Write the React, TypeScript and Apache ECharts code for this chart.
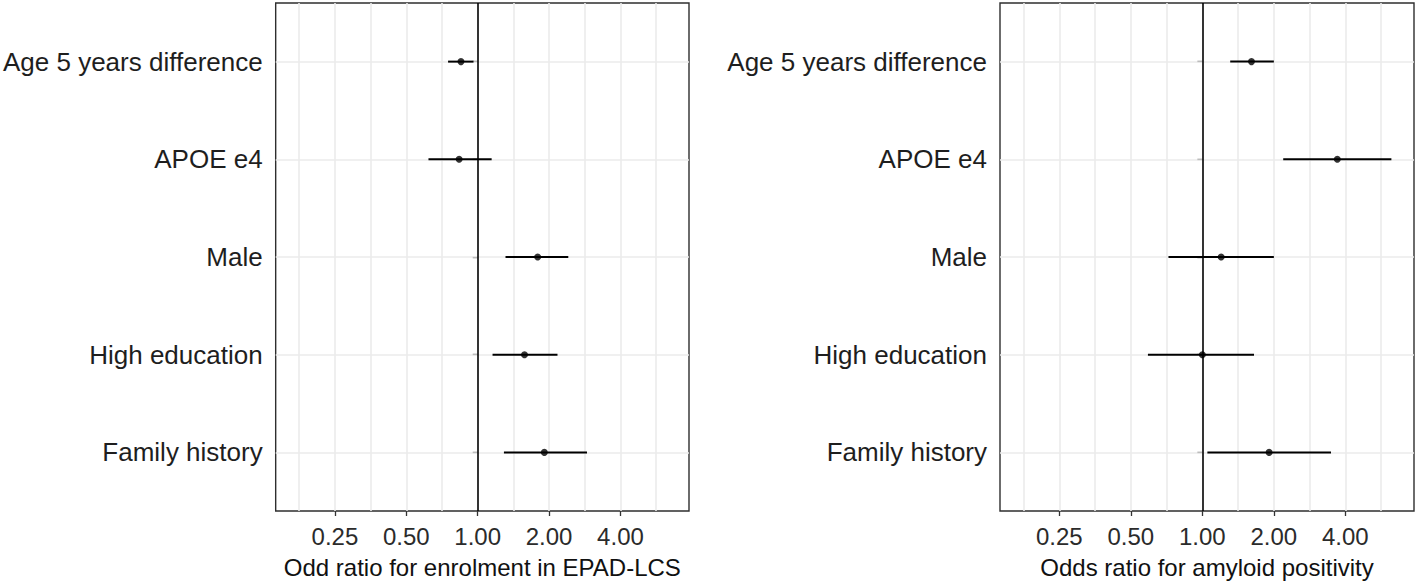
import React, { useEffect, useRef } from "react";
import * as echarts from "echarts";

const categories = ["Age 5 years difference", "APOE e4", "Male", "High education", "Family history"];

const enrolOR = [0.85, 0.835, 1.79, 1.575, 1.91];
const enrolLow = [0.75, 0.62, 1.31, 1.155, 1.29];
const enrolHigh = [0.96, 1.145, 2.41, 2.17, 2.89];

const amyOR = [1.61, 3.7, 1.2, 1.0, 1.91];
const amyLow = [1.31, 2.19, 0.72, 0.59, 1.05];
const amyHigh = [2.0, 6.25, 2.0, 1.65, 3.48];

const xTickValues = [0.25, 0.5, 1, 2, 4];
const xMinorValues = [0.177, 0.354, 0.707, 1.414, 2.828, 5.657];
const refValue = 1;
const xTitles = ["Odd ratio for enrolment in EPAD-LCS", "Odds ratio for amyloid positivity"];

const FONT = "'Liberation Sans', Arial, sans-serif";
const log2 = (v: number) => Math.log2(v);

export default function App() {
  const ref = useRef<HTMLDivElement>(null);
  useEffect(() => {
    if (!ref.current) return;
    const chart = echarts.init(ref.current, null, { renderer: "svg" });
    const panels = [
      { or: enrolOR, lo: enrolLow, hi: enrolHigh, left: 275 },
      { or: amyOR, lo: amyLow, hi: amyHigh, left: 1000 },
    ];
    const rowPos = categories.map((_, i) => i + 1);
    const grid: any[] = [];
    const xAxis: any[] = [];
    const yAxis: any[] = [];
    const series: any[] = [];
    panels.forEach((p, k) => {
      grid.push({
        left: p.left,
        top: 3,
        width: 414,
        height: 509,
        show: true,
        borderColor: "#2e2e2e",
        borderWidth: 1.4,
        backgroundColor: "#fff",
      });
      xAxis.push({
        type: "value",
        gridIndex: k,
        min: -2.83,
        max: 2.96,
        axisLine: { show: false },
        splitLine: { show: false },
        axisTick: {
          show: true,
          customValues: xTickValues.map(log2),
          length: 5,
          lineStyle: { color: "#333", width: 1.3 },
        },
        axisLabel: {
          customValues: xTickValues.map(log2),
          formatter: (v: number) => Math.pow(2, v).toFixed(2),
          fontSize: 24,
          fontFamily: FONT,
          color: "#2b2b2b",
          margin: 13,
          hideOverlap: false,
        },
        name: xTitles[k],
        nameLocation: "middle",
        nameGap: 44,
        nameTextStyle: { fontSize: 24, fontFamily: FONT, color: "#111" },
      });
      yAxis.push({
        type: "value",
        gridIndex: k,
        inverse: true,
        min: 0.4,
        max: 5.6,
        axisLine: { show: false },
        splitLine: { show: false },
        axisTick: {
          show: true,
          customValues: rowPos,
          length: 5,
          lineStyle: { color: "#333", width: 1.3 },
        },
        axisLabel: {
          customValues: rowPos,
          formatter: (v: number) => categories[Math.round(v) - 1] ?? "",
          fontSize: 26,
          fontFamily: FONT,
          color: "#1e1e1e",
          margin: 13,
          hideOverlap: false,
        },
      });
      const gridLineStyle = { color: "#ebebeb", width: 1.6, type: "solid" };
      series.push({
        type: "line",
        xAxisIndex: k,
        yAxisIndex: k,
        data: [],
        z: 1,
        markLine: {
          z: 1,
          silent: true,
          symbol: "none",
          label: { show: false },
          animation: false,
          data: [
            ...xMinorValues.map((v) => ({ xAxis: log2(v), lineStyle: gridLineStyle })),
            ...xTickValues.filter((v) => v !== refValue).map((v) => ({ xAxis: log2(v), lineStyle: gridLineStyle })),
            ...rowPos.map((v) => ({ yAxis: v, lineStyle: gridLineStyle })),
            { xAxis: log2(refValue), lineStyle: { color: "#000", width: 1.6, type: "solid" } },
          ],
        },
      });
      series.push({
        type: "custom",
        xAxisIndex: k,
        yAxisIndex: k,
        coordinateSystem: "cartesian2d",
        z: 6,
        data: categories.map((_, i) => [log2(p.lo[i]), log2(p.hi[i]), rowPos[i]]),
        encode: { x: [0, 1], y: 2 },
        renderItem: (_params: any, api: any) => {
          const a = api.coord([api.value(0), api.value(2)]);
          const b = api.coord([api.value(1), api.value(2)]);
          return {
            type: "line",
            shape: { x1: a[0], y1: a[1], x2: b[0], y2: b[1] },
            style: { stroke: "#000", lineWidth: 2 },
          };
        },
      });
      series.push({
        type: "scatter",
        xAxisIndex: k,
        yAxisIndex: k,
        z: 7,
        symbol: "circle",
        symbolSize: 7,
        itemStyle: { color: "#000" },
        data: categories.map((_, i) => [log2(p.or[i]), rowPos[i]]),
      });
    });
    chart.setOption({
      animation: false,
      backgroundColor: "#fff",
      grid,
      xAxis,
      yAxis,
      series,
    });
    return () => chart.dispose();
  }, []);
  return (
    <div
      ref={ref}
      style={{ position: "absolute", left: 0, top: 0, width: 1418, height: 584, background: "#fff" }}
    />
  );
}
